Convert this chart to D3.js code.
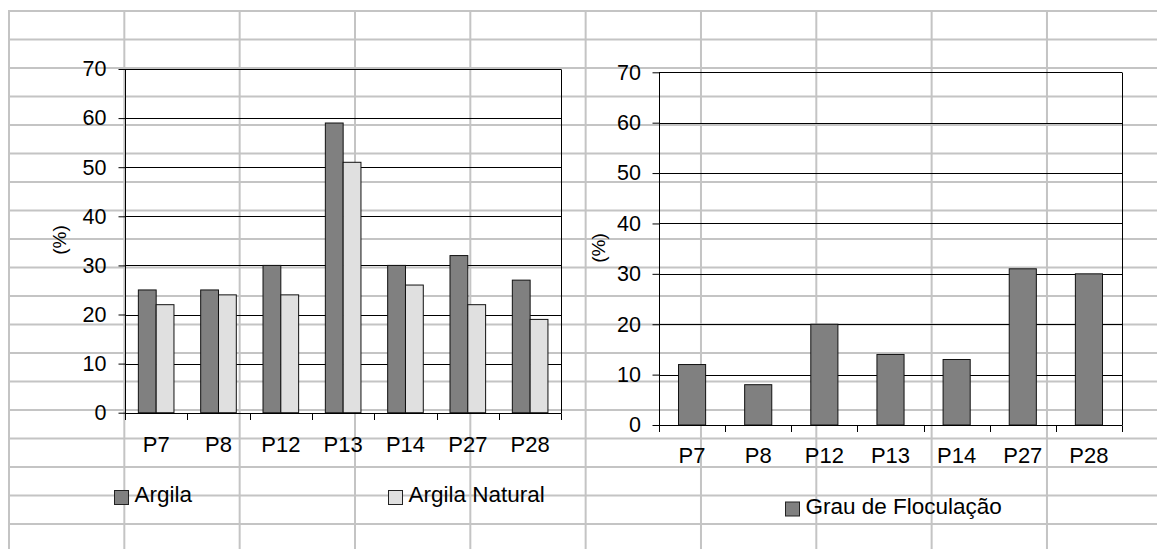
<!DOCTYPE html>
<html>
<head>
<meta charset="utf-8">
<script src="https://cdn.jsdelivr.net/npm/d3@7"></script>
<style>
  html, body { margin: 0; padding: 0; background: #fff; }
  svg { display: block; font-family: "Liberation Sans", Arial, sans-serif; }
</style>
</head>
<body>
<svg id="chart" width="1157" height="549"></svg>
<script>
// ---- data ----
const categories = ["P7", "P8", "P12", "P13", "P14", "P27", "P28"];
const argila = [25, 25, 30, 59, 30, 32, 27];
const argilaNatural = [22, 24, 24, 51, 26, 22, 19];
const grauFloculacao = [12, 8, 20, 14, 13, 31, 30];
const yTicks = [0, 10, 20, 30, 40, 50, 60, 70];
const leftSeriesNames = ["Argila", "Argila Natural"];
const rightSeriesNames = ["Grau de Floculação"];
const yLabel = "(%)";

const svg = d3.select("#chart");

// ---- spreadsheet background grid ----
const sheet = svg.append("g").attr("class", "sheet");
const rowYs = d3.range(0, 19).map(i => 11 + i * 28.5);
const colXs = d3.range(0, 10).map(i => 9 + i * 115.33);
sheet.selectAll("line.h").data(rowYs).join("line")
  .attr("x1", 9).attr("x2", 1157).attr("y1", d => d).attr("y2", d => d)
  .attr("stroke", "#c4c4c4").attr("stroke-width", 2);
sheet.selectAll("line.v").data(colXs).join("line")
  .attr("x1", d => d).attr("x2", d => d).attr("y1", 10).attr("y2", 549)
  .attr("stroke", "#c4c4c4").attr("stroke-width", 2);

function drawChart(cfg) {
  const g = svg.append("g");
  const x = d3.scaleBand().domain(categories).range([cfg.x0, cfg.x1]).padding(0);
  const y = d3.scaleLinear().domain([0, 70]).range([cfg.yBot, cfg.yTop]);
  const sub = d3.scaleBand().domain(cfg.series.map(s => s.name))
    .range([0, x.bandwidth()]).paddingInner(0).paddingOuter(cfg.outer);

  // gridlines
  g.selectAll("line.grid").data(yTicks.filter(t => t > 0)).join("line")
    .attr("x1", cfg.x0).attr("x2", cfg.x1)
    .attr("y1", d => Math.round(y(d)) + 0.5).attr("y2", d => Math.round(y(d)) + 0.5)
    .attr("stroke", "#000").attr("stroke-width", 1);
  // right border
  g.append("line").attr("x1", Math.round(cfg.x1) + 0.5).attr("x2", Math.round(cfg.x1) + 0.5)
    .attr("y1", Math.round(y(70)) + 0.5).attr("y2", Math.round(y(0)) + 0.5)
    .attr("stroke", "#000");

  // bars
  cfg.series.forEach(s => {
    g.selectAll(null).data(s.values).join("rect")
      .attr("x", (d, i) => x(categories[i]) + sub(s.name))
      .attr("y", d => y(d))
      .attr("width", sub.bandwidth())
      .attr("height", d => y(0) - y(d))
      .attr("fill", s.color)
      .attr("stroke", "#111").attr("stroke-width", 1);
  });

  // y axis
  const yAxis = d3.axisLeft(y).tickValues(yTicks).tickSize(7).tickPadding(cfg.yPad).tickSizeOuter(0);
  const ya = g.append("g").attr("transform", `translate(${Math.round(cfg.x0) + 0.5},0)`).call(yAxis);
  ya.select(".domain").remove();
  ya.selectAll(".tick line").attr("stroke", "#000");
  ya.selectAll(".tick text").attr("font-size", 21.5).attr("fill", "#000")
    .attr("font-family", "Liberation Sans, Arial, sans-serif");
  g.append("line").attr("x1", Math.round(cfg.x0) + 0.5).attr("x2", Math.round(cfg.x0) + 0.5)
    .attr("y1", Math.round(y(70)) + 0.5).attr("y2", Math.round(y(0)) + 0.5).attr("stroke", "#000");

  // x axis
  const xAxis = d3.axisBottom(x).tickSize(0).tickPadding(cfg.xPad);
  const xa = g.append("g").attr("transform", `translate(0,${Math.round(cfg.yBot) + 0.5})`).call(xAxis);
  xa.select(".domain").remove();
  xa.selectAll(".tick text").attr("font-size", 22).attr("fill", "#000")
    .attr("font-family", "Liberation Sans, Arial, sans-serif");
  g.append("line").attr("x1", cfg.x0).attr("x2", cfg.x1)
    .attr("y1", Math.round(y(0)) + 0.5).attr("y2", Math.round(y(0)) + 0.5).attr("stroke", "#000");
  const bounds = categories.map(c => x(c)).concat([cfg.x1]);
  g.selectAll(null).data(bounds).join("line")
    .attr("x1", d => Math.round(d) + 0.5).attr("x2", d => Math.round(d) + 0.5)
    .attr("y1", Math.round(y(0)) + 0.5).attr("y2", Math.round(y(0)) + 7)
    .attr("stroke", "#000");

  // y label
  g.append("text").attr("transform", `translate(${cfg.ylabX},${cfg.ylabY}) rotate(-90)`)
    .attr("text-anchor", "middle").attr("dy", "0.35em")
    .attr("font-size", 19).attr("fill", "#000").text(yLabel);

  // legend
  cfg.legend.forEach((l, i) => {
    const s = cfg.series[i];
    g.append("rect").attr("x", l.x + 0.5).attr("y", l.y + 0.5).attr("width", 14).attr("height", 14)
      .attr("fill", s.color).attr("stroke", "#222").attr("stroke-width", 1);
    g.append("text").attr("x", l.x + 20.5).attr("y", l.base)
      .attr("font-size", 22.5).attr("fill", "#000").text(s.name);
  });
}

drawChart({
  x0: 125, x1: 561.3, yTop: 69, yBot: 412.7, yPad: 12, xPad: 22.5,
  outer: 0.75, ylabX: 59, ylabY: 240,
  series: [
    { name: leftSeriesNames[0], values: argila, color: "#808080" },
    { name: leftSeriesNames[1], values: argilaNatural, color: "#e0e0e0" }
  ],
  legend: [ { x: 114, y: 490, base: 501.7 }, { x: 388, y: 490, base: 501.7 } ]
});

drawChart({
  x0: 659, x1: 1122, yTop: 72.3, yBot: 425, yPad: 11.5, xPad: 21.8,
  outer: 0.72, ylabX: 598.5, ylabY: 248,
  series: [
    { name: rightSeriesNames[0], values: grauFloculacao, color: "#808080" }
  ],
  legend: [ { x: 785, y: 501.5, base: 514 } ]
});
</script>
</body>
</html>
